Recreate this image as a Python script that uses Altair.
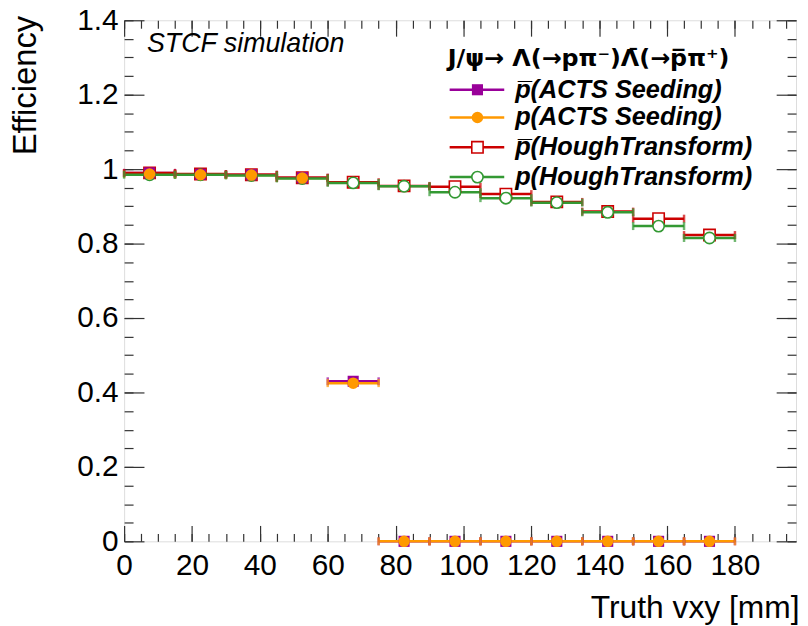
import altair as alt
import pandas as pd

# ---------------- data ----------------
bin_low = [0, 15, 30, 45, 60, 75, 90, 105, 120, 135, 150, 165]
bin_high = [15, 30, 45, 60, 75, 90, 105, 120, 135, 150, 165, 180]
bin_center = [7.5, 22.5, 37.5, 52.5, 67.5, 82.5, 97.5, 112.5, 127.5, 142.5, 157.5, 172.5]

acts_pbar = [0.990, 0.986, 0.985, 0.977, 0.430, 0, 0, 0, 0, 0, 0, 0]
acts_p = [0.987, 0.985, 0.984, 0.976, 0.425, 0, 0, 0, 0, 0, 0, 0]
hough_pbar = [0.990, 0.987, 0.985, 0.977, 0.965, 0.955, 0.953, 0.933, 0.912, 0.886, 0.867, 0.823]
hough_p = [0.985, 0.985, 0.983, 0.975, 0.963, 0.954, 0.938, 0.922, 0.910, 0.884, 0.847, 0.815]

series_names = ["p\u0305(ACTS Seeding)", "p(ACTS Seeding)",
                "p\u0305(HoughTransform)", "p(HoughTransform)"]
series_values = [acts_pbar, acts_p, hough_pbar, hough_p]
series_colors = ["#990099", "#ff9900", "#cc0000", "#339933"]
series_shapes = ["square", "circle", "square", "circle"]
series_open = [False, False, True, True]

x_major = [0, 20, 40, 60, 80, 100, 120, 140, 160, 180]
x_minor = [v * 5 for v in range(40)]
y_major = [0, 0.2, 0.4, 0.6, 0.8, 1.0, 1.2, 1.4]
y_minor = [round(v * 0.05, 2) for v in range(29)]

header_text = "J/\u03c8\u2192  \u039b(\u2192p\u03c0\u207b)\u039b\u0304(\u2192p\u0305\u03c0\u207a)"

rows = []
for k, (name, vals) in enumerate(zip(series_names, series_values)):
    for lo, hi, c, v in zip(bin_low, bin_high, bin_center, vals):
        rows.append({"series": name, "k": k, "lo": lo, "hi": hi, "x": c, "eff": v})
df = pd.DataFrame(rows)

# ---------------- geometry ----------------
W, H = 677, 525
FONT = "Liberation Sans"

xs = alt.Scale(domain=[0, 198], nice=False, zero=False)
ys = alt.Scale(domain=[0, 1.4], nice=False, zero=False)
color = alt.Color("series:N", scale=alt.Scale(domain=series_names, range=series_colors), legend=None)

base = alt.Chart(df)

bars = base.mark_rule(strokeWidth=2.5).encode(
    x=alt.X("lo:Q", scale=xs, axis=None), x2="hi:Q",
    y=alt.Y("eff:Q", scale=ys, axis=None), color=color)
cap_lo = base.mark_tick(orient="vertical", size=8, thickness=2.5).encode(
    x=alt.X("lo:Q", scale=xs, axis=None), y=alt.Y("eff:Q", scale=ys, axis=None), color=color)
cap_hi = base.mark_tick(orient="vertical", size=8, thickness=2.5).encode(
    x=alt.X("hi:Q", scale=xs, axis=None), y=alt.Y("eff:Q", scale=ys, axis=None), color=color)


def marker_style(k):
    if series_open[k]:
        return dict(shape=series_shapes[k], size=130, filled=True, fill="white",
                    stroke=series_colors[k], strokeWidth=1.6, opacity=1)
    return dict(shape=series_shapes[k], size=125 if k == 0 else 135, filled=True,
                fill=series_colors[k], strokeWidth=0, opacity=1)


marker_layers = []
for k in [2, 3, 0, 1]:
    name = series_names[k]
    marker_layers.append(
        alt.Chart(df[df["series"] == name]).mark_point(**marker_style(k)).encode(
            x=alt.X("x:Q", scale=xs, axis=None), y=alt.Y("eff:Q", scale=ys, axis=None)))


def axis_layer(xaxis, yaxis):
    return base.mark_point(opacity=0).encode(
        x=alt.X("x:Q", scale=xs, axis=xaxis),
        y=alt.Y("eff:Q", scale=ys, axis=yaxis))


tick_common = dict(labels=False, domain=False, grid=False, title="",
                   tickColor="#333333", tickWidth=1.2)

label_axes = axis_layer(
    alt.Axis(orient="bottom", values=x_major, ticks=False, domain=False, grid=False,
             labelFont=FONT, labelFontSize=30, labelColor="#000000", labelPadding=9,
             labelFlush=False, labelOverlap=False, format="d",
             title="Truth vxy [mm]", titleFont=FONT, titleFontSize=32, titleFontWeight="normal",
             titleColor="#000000", titleAnchor="end", titleAlign="right",
             titleBaseline="alphabetic", titleX=W + 3, titleY=77),
    alt.Axis(orient="left", values=y_major, ticks=False, domain=False, grid=False,
             labelFont=FONT, labelFontSize=30, labelColor="#000000", labelPadding=6,
             labelFlush=False, labelOverlap=False, format="~g",
             title="Efficiency", titleFont=FONT, titleFontSize=33, titleFontWeight="normal",
             titleColor="#000000", titleAnchor="end", titleAngle=270, titleAlign="right",
             titleBaseline="middle", titleX=-99, titleY=-5))

in_major = axis_layer(
    alt.Axis(orient="top", offset=-H, values=x_major, tickSize=16, **tick_common),
    alt.Axis(orient="right", offset=-W, values=y_major, tickSize=20, **tick_common))
in_minor = axis_layer(
    alt.Axis(orient="top", offset=-H, values=x_minor, tickSize=8, **tick_common),
    alt.Axis(orient="right", offset=-W, values=y_minor, tickSize=9, **tick_common))
out_major = axis_layer(
    alt.Axis(orient="bottom", offset=-H, values=x_major, tickSize=16, **tick_common),
    alt.Axis(orient="left", offset=-W, values=y_major, tickSize=20, **tick_common))
out_minor = axis_layer(
    alt.Axis(orient="bottom", offset=-H, values=x_minor, tickSize=8, **tick_common),
    alt.Axis(orient="left", offset=-W, values=y_minor, tickSize=9, **tick_common))

# ---------------- legend & annotation ----------------
leg_y = [70, 98, 128, 158]
leg_layers = []
for k in range(4):
    one = alt.Chart(pd.DataFrame({"t": [series_names[k]]}))
    leg_layers.append(one.mark_rule(color=series_colors[k], strokeWidth=2.5).encode(
        x=alt.value(328), x2=alt.value(383), y=alt.value(leg_y[k])))
    leg_layers.append(one.mark_point(**marker_style(k)).encode(
        x=alt.value(356), y=alt.value(leg_y[k])))
    leg_layers.append(one.mark_text(align="left", baseline="middle", font=FONT, fontSize=25.5,
                                    fontWeight="bold", fontStyle="italic", color="#000000").encode(
        x=alt.value(394), y=alt.value(leg_y[k]), text="t:N"))

header = alt.Chart(pd.DataFrame({"t": [header_text]})).mark_text(
    align="left", baseline="middle", font="DejaVu Sans", fontSize=24, fontWeight="bold",
    color="#000000").encode(x=alt.value(326), y=alt.value(39), text="t:N")
stcf = alt.Chart(pd.DataFrame({"t": ["STCF simulation"]})).mark_text(
    align="left", baseline="middle", font=FONT, fontSize=27, fontStyle="italic",
    color="#000000").encode(x=alt.value(23), y=alt.value(24), text="t:N")

chart = alt.layer(
    in_minor, in_major, out_minor, out_major, label_axes,
    bars, cap_lo, cap_hi, *marker_layers, header, stcf, *leg_layers
).resolve_axis(x="independent", y="independent").properties(
    width=W, height=H,
    autosize=alt.AutoSizeParams(type="none"),
    padding={"left": 117, "top": 10, "right": 4, "bottom": 90},
).configure_view(stroke="#000000", strokeWidth=1.5).configure(background="white")

chart.save("out.html", embed_options={"renderer": "svg", "actions": False})
